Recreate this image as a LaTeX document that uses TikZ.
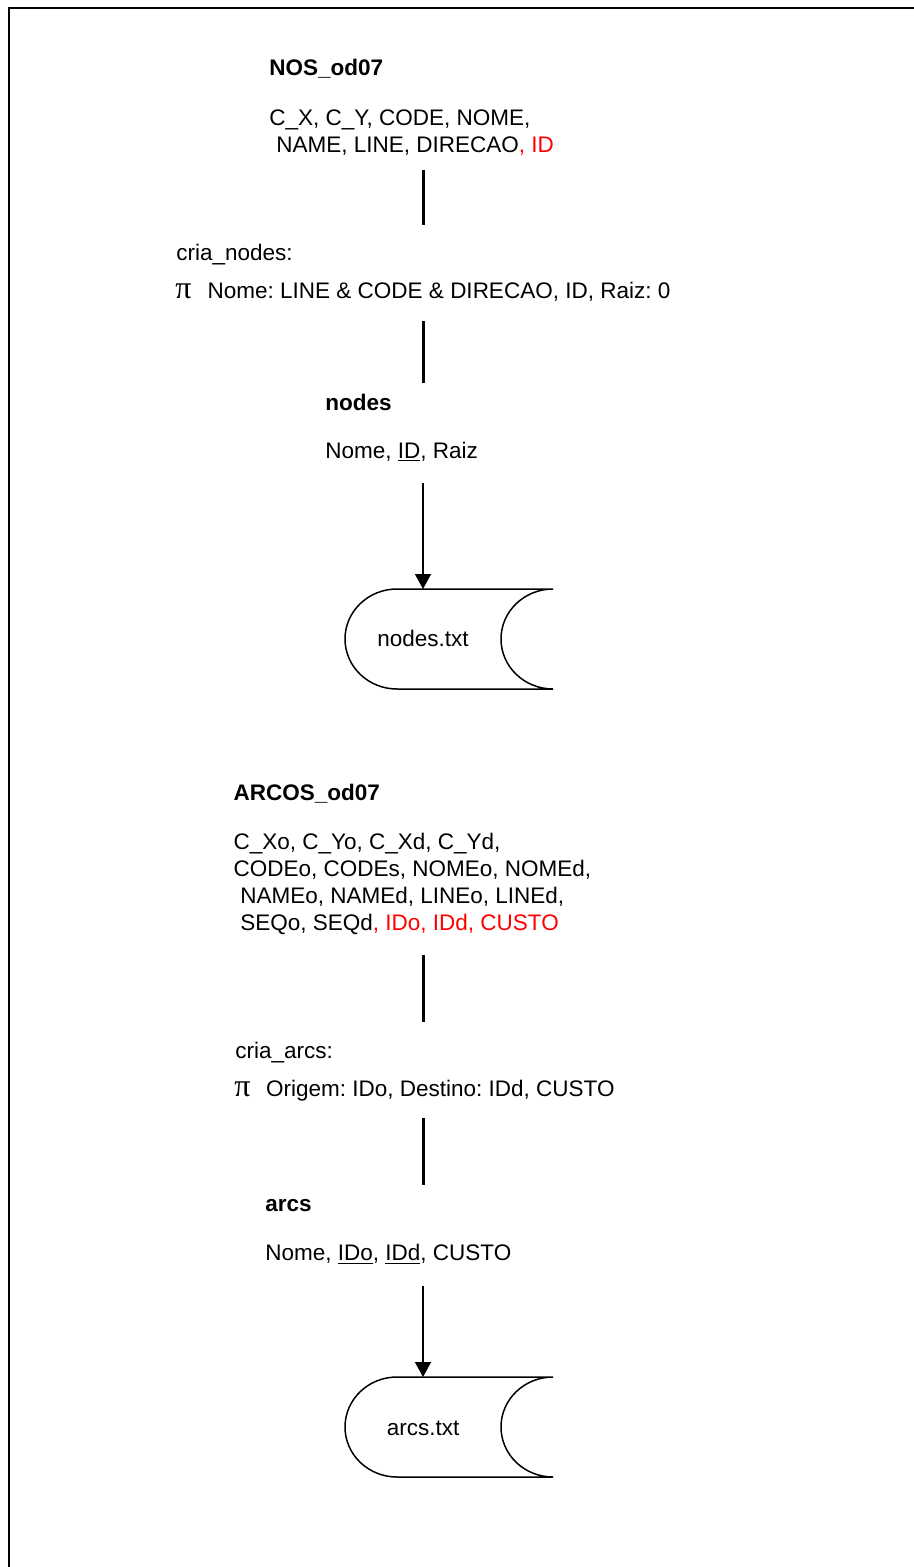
\documentclass[tikz,border=0pt]{standalone}
\usepackage{fontspec}
\setmainfont{Liberation Sans}
\newfontfamily\pifont{Liberation Serif}
\usetikzlibrary{arrows.meta}
\frenchspacing

\begin{document}
\begin{tikzpicture}[x=0.5pt,y=0.5pt,
  txt/.style={anchor=base west,inner sep=0pt,font=\fontsize{11.25}{13.5}\selectfont},
  ttl/.style={txt,font=\fontsize{11.25}{13.5}\selectfont\bfseries},
  pisym/.style={anchor=base west,inner sep=0pt,font=\pifont\fontsize{16}{16}\selectfont},
  link/.style={line width=1.5pt},
  flow/.style={line width=0.75pt,-{Triangle[width=8pt,length=7.5pt]}},
  store/.style={line width=0.75pt},
  frame/.style={line width=1pt},
  pics/datafile/.style={code={
    \draw[store] (130,50) -- (-26,50)
      arc[start angle=90,end angle=270,x radius=52,y radius=50]
      -- (130,-50)
      arc[start angle=270,end angle=90,x radius=52,y radius=50] -- cycle;}}]
\useasboundingbox (0,0) rectangle (914,-1567);

% page frame (right and bottom edges run off the sheet)
\draw[frame] (930,-8) -- (9,-8) -- (9,-1580);

% ---------- nodes ----------
\node[ttl] (nosT) at (269,-76) {NOS\_od07};
\node[txt] (nosA) at (269,-125.7) {C\_X, C\_Y, CODE, NOME,};
\node[txt] (nosB) at (276,-152.3) {NAME, LINE, DIRECAO\textcolor{red}{, ID}};

\coordinate (l1top) at (423,-170);
\coordinate (l1bot) at (423,-225);
\draw[link] (l1top) -- (l1bot);

\node[txt] (crianodes) at (176,-260.7) {cria\_nodes:};
\node[pisym] (pi1) at (175,-298.7) {π};
\node[txt] (proj1) at (207.3,-298.7) {Nome: LINE \& CODE \& DIRECAO, ID, Raiz: 0};

\coordinate (l2top) at (423,-321);
\coordinate (l2bot) at (423,-383);
\draw[link] (l2top) -- (l2bot);

\node[ttl] (nodesT) at (325,-410) {nodes};
\node[txt] (nodesA) at (325,-458) {Nome, \underline{ID}, Raiz};

\coordinate (a1from) at (423,-483);
\coordinate (f1top) at (423,-589);
\draw[flow] (a1from) -- (f1top);

\pic at (423,-639) {datafile};
\node[txt,anchor=base] (f1) at (423,-646.7) {nodes.txt};

% ---------- arcs ----------
\node[ttl] (arcosT) at (233.3,-800) {ARCOS\_od07};
\node[txt] (arcosA) at (233.3,-849) {C\_Xo, C\_Yo, C\_Xd, C\_Yd,};
\node[txt] (arcosB) at (233.3,-876) {CODEo, CODEs, NOMEo, NOMEd,};
\node[txt] (arcosC) at (240,-903.3) {NAMEo, NAMEd, LINEo, LINEd,};
\node[txt] (arcosD) at (240,-930.7) {SEQo, SEQd\textcolor{red}{, IDo, IDd, CUSTO}};

\coordinate (l3top) at (423,-955);
\coordinate (l3bot) at (423,-1022);
\draw[link] (l3top) -- (l3bot);

\node[txt] (criaarcs) at (235,-1058) {cria\_arcs:};
\node[pisym] (pi2) at (234,-1096) {π};
\node[txt] (proj2) at (265.7,-1096) {Origem: IDo, Destino: IDd, CUSTO};

\coordinate (l4top) at (423,-1118);
\coordinate (l4bot) at (423,-1185);
\draw[link] (l4top) -- (l4bot);

\node[ttl] (arcsT) at (265,-1211.7) {arcs};
\node[txt] (arcsA) at (265,-1260) {Nome, \underline{IDo}, \underline{IDd}, CUSTO};

\coordinate (a2from) at (423,-1286);
\coordinate (f2top) at (423,-1377);
\draw[flow] (a2from) -- (f2top);

\pic at (423,-1427) {datafile};
\node[txt,anchor=base] (f2) at (423,-1435) {arcs.txt};
\end{tikzpicture}
\end{document}
